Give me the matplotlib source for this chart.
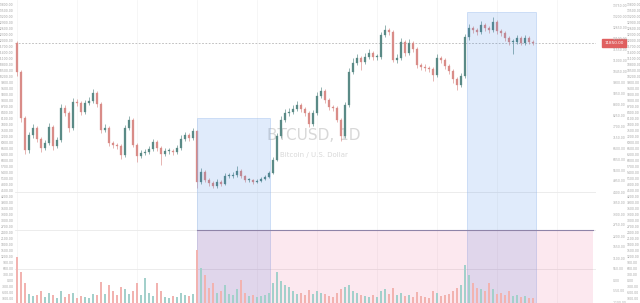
import matplotlib
matplotlib.use("Agg")
import matplotlib.pyplot as plt
from matplotlib.patches import Rectangle
from matplotlib.ticker import MultipleLocator, FuncFormatter

# ---------------- data (daily BTCUSD candles) ----------------
first_open = 11850
closes = [10400, 8100, 6500, 7250, 7600, 7050, 6600, 6850, 7650, 6700,
          7000, 8600, 8350, 7600, 8900, 8850, 8400, 8850, 8950, 9350,
          8800, 7500, 7600, 6850, 6750, 6700, 6250, 7600, 8000, 6750,
          6200, 6350, 6400, 6550, 6900, 6600, 6300, 6450, 6450, 6400,
          6600, 7050, 7250, 7100, 7450, 4900, 5400, 5000, 4850, 4700,
          4900, 4800, 5200, 5200, 5250, 5450, 5200, 5000, 5000, 4900,
          4950, 5050, 5150, 5350, 6000, 7200, 8000, 8350, 8400, 8550,
          8750, 8550, 8350, 7800, 8350, 9200, 9450, 9000, 8650, 8600,
          8000, 7200, 8750, 10400, 10850, 11100, 10900, 11150, 11350, 11150,
          11150, 12250, 12500, 12400, 11000, 11100, 11900, 11350, 11850, 11550,
          10750, 10650, 10600, 10550, 10250, 11100, 11000, 10700, 10450, 10050,
          9750, 10200, 12150, 12600, 12500, 12400, 12750, 12600, 12500, 12900,
          12450, 12350, 12100, 11900, 11900, 12100, 11850, 12100, 11900, 11850]
highs = [11950, 10500, 8200, 7400, 7800, 7700, 7150, 7000, 7850, 7750,
         7150, 8800, 8750, 8450, 9100, 9050, 8950, 9000, 9150, 9550,
         9450, 8900, 7800, 7700, 6950, 6850, 6800, 7750, 8200, 8100,
         6850, 6500, 6550, 6700, 7050, 7000, 6700, 6600, 6600, 6550,
         6750, 7250, 7400, 7350, 7600, 7500, 5600, 5500, 5100, 4950,
         5050, 5000, 5350, 5350, 5400, 5700, 5550, 5250, 5100, 5050,
         5050, 5150, 5250, 5450, 6150, 7350, 8200, 8550, 8600, 8750,
         8950, 8850, 8650, 8450, 8500, 9400, 9650, 9550, 9100, 8750,
         8700, 8100, 8900, 10600, 11100, 11300, 11200, 11350, 11550, 11450,
         11300, 12400, 12750, 12600, 12500, 11300, 12100, 12000, 12050, 11950,
         11650, 10850, 10800, 10700, 10650, 11300, 11200, 11100, 10800, 10550,
         10150, 10350, 12300, 12800, 12700, 12600, 12950, 12850, 12700, 13150,
         13000, 12550, 12450, 12200, 12050, 12250, 12200, 12250, 12200, 12000]
lows = [10200, 7900, 6300, 6350, 7100, 6900, 6400, 6500, 6750, 6500,
        6600, 6900, 8200, 7400, 7500, 8700, 8250, 8300, 8750, 8850,
        8650, 7350, 7400, 6700, 6600, 6550, 6050, 6150, 7500, 6650,
        5900, 6100, 6250, 6300, 6450, 6450, 5750, 6200, 6300, 6250,
        6300, 6500, 6950, 6950, 7000, 4600, 4800, 4900, 4700, 4600,
        4600, 4700, 4750, 5100, 5100, 5150, 5100, 4900, 4900, 4800,
        4850, 4900, 5000, 5100, 5300, 5950, 7100, 7900, 8200, 8300,
        8450, 8400, 8200, 7650, 7700, 8250, 9100, 8850, 8500, 8450,
        7900, 6950, 7100, 8650, 10300, 10750, 10500, 10800, 11050, 11000,
        11000, 11050, 12150, 12250, 10900, 10850, 11000, 11200, 11250, 11400,
        10600, 10500, 10450, 10400, 9950, 10150, 10850, 10550, 10300, 9850,
        9500, 9650, 10100, 12000, 12350, 12250, 12300, 12450, 12350, 12400,
        12300, 12200, 11950, 11750, 11300, 11800, 11750, 11750, 11800, 11750]
volumes = [46000, 31000, 20000, 9000, 7000, 8000, 12000, 6000, 10000, 8000,
           5000, 12000, 6000, 9000, 10000, 5000, 7000, 6000, 5000, 9000,
           8000, 21000, 9000, 18000, 12000, 8000, 16000, 14000, 9000, 12000,
           20000, 8000, 25000, 10000, 7000, 20000, 12000, 6000, 5000, 7000,
           6000, 10000, 8000, 7000, 9000, 53000, 35000, 28000, 15000, 20000,
           10000, 12000, 18000, 9000, 8000, 14000, 23000, 10000, 7000, 8000,
           6000, 7000, 8000, 10000, 20000, 31000, 22000, 18000, 16000, 12000,
           9000, 10000, 8000, 13000, 9000, 12000, 10000, 9000, 7000, 6000,
           10000, 14000, 16000, 18000, 12000, 10000, 8000, 7000, 6000, 8000,
           6000, 12000, 14000, 9000, 15000, 8000, 10000, 7000, 8000, 6000,
           11000, 7000, 6000, 5000, 12000, 10000, 7000, 8000, 9000, 12000,
           15000, 18000, 38000, 28000, 20000, 15000, 14000, 12000, 20000, 14000,
           9000, 10000, 8000, 12000, 7000, 8000, 6000, 7000, 5000, 5000]
opens = [first_open] + closes[:-1]

# annotation boxes: (first candle, last candle, top price)
date_range_1 = (44.9, 63.3, 8100)
date_range_2 = (112.5, 129.7, 13400)
price_range = (44.9, 144.0, 2500)

title = "BTCUSD, 1D"
subtitle = "Bitcoin / U.S. Dollar"

# ---------------- style ----------------
UP = "#5a8a86"
DOWN = "#d98c88"
VOL_UP = "#a3d0cb"
VOL_DOWN = "#f2b3b0"
LABEL = "#a0a0a0"
YMIN, YMAX = -1150, 14000

fig = plt.figure(figsize=(6.4, 3.03), dpi=100)
fig.patch.set_facecolor("white")
ax = fig.add_axes([15 / 640, 0, 581 / 640, 1])
ax.set_xlim(-0.5, 144.75)
ax.set_ylim(YMIN, YMAX)
ax.set_facecolor("white")
for s in ax.spines.values():
    s.set_visible(False)

# grid
ax.yaxis.set_major_locator(MultipleLocator(300))
for gx in range(0, 145, 15):
    ax.axvline(gx, color="#f3f3f3", lw=0.5, zorder=0)
for gy in [4400, 2500, 550]:
    ax.axhline(gy, color="#e9e9e9", lw=0.6, zorder=0)

# watermark
ax.text(0.515, 0.552, title, transform=ax.transAxes, ha="center", va="center",
        fontsize=11, color="#d8d8d8", zorder=1)
ax.text(0.515, 0.488, subtitle, transform=ax.transAxes, ha="center", va="center",
        fontsize=5, color="#d8d8d8", zorder=1)

# volume on a twin axis
axv = ax.twinx()
axv.set_ylim(0, 303000)
axv.set_axis_off()
idx = list(range(len(closes)))
vcol = [VOL_UP if c >= o else VOL_DOWN for o, c in zip(opens, closes)]
axv.bar(idx, volumes, width=0.5, color=vcol, zorder=2)

# candles
for i, (o, h, l, c) in enumerate(zip(opens, highs, lows, closes)):
    col = UP if c >= o else DOWN
    ax.vlines(i, l, h, color=col, lw=0.45, zorder=3)
    lo, hi = min(o, c), max(o, c)
    if hi - lo < 40:
        hi = lo + 40
    ax.add_patch(Rectangle((i - 0.22, lo), 0.44, hi - lo, facecolor=col,
                           edgecolor=col, lw=0.2, zorder=3))

# range boxes
for x0, x1, top in (date_range_1, date_range_2):
    ax.add_patch(Rectangle((x0, YMIN), x1 - x0, top - YMIN,
                           facecolor=(0.16, 0.47, 0.90, 0.14),
                           edgecolor=(0.55, 0.70, 0.92, 0.5), lw=0.5, zorder=4))
x0, x1, top = price_range
ax.add_patch(Rectangle((x0, YMIN), x1 - x0, top - YMIN, facecolor=(0.91, 0.12, 0.39, 0.10),
                       edgecolor="none", zorder=4))
ax.plot([x0, x1], [top, top], color="#8f84a8", lw=0.8, zorder=5)

# last price line and label
last = closes[-1]
ax.axhline(last, color="#b5b5b5", lw=0.6, ls=(0, (2, 2)), zorder=2)
ax.annotate(f"{last:.2f}", xy=(1.0, last), xycoords=("axes fraction", "data"),
            xytext=(6, 0), textcoords="offset points", ha="left", va="center",
            fontsize=3, color="white",
            bbox=dict(boxstyle="square,pad=0.5", fc="#e06060", ec="#e06060"))

# tick labels: left and right price scale
fmt = FuncFormatter(lambda v, p: f"{v:.2f}")
ax.yaxis.set_major_formatter(fmt)
ax.tick_params(axis="y", which="both", length=0, labelsize=2.2, labelcolor=LABEL,
               left=False, right=False, labelleft=True, labelright=True, pad=1)
ax.tick_params(axis="x", length=0, labelbottom=False)
for lab in ax.yaxis.get_ticklabels(which="major"):
    pass
ax.yaxis.set_tick_params(which="major", pad=1)
# push right-side labels out to second column
ax.yaxis.get_major_ticks()  # ensure ticks exist
for t in ax.yaxis.get_major_ticks():
    t.label2.set_x(1.0)
ax.yaxis.set_tick_params(labelright=True)

# right column (outer) uses a twin axis with same scale
ax3 = ax.twinx()
ax3.set_ylim(YMIN, YMAX)
ax3.yaxis.set_major_locator(MultipleLocator(300))
ax3.yaxis.set_major_formatter(fmt)
ax3.tick_params(axis="y", length=0, labelsize=2.2, labelcolor=LABEL, pad=22)
for s in ax3.spines.values():
    s.set_visible(False)
ax.tick_params(axis="y", labelright=False)

# inner right column with wider spacing
ax2 = ax.twinx()
ax2.set_ylim(YMIN, YMAX)
ax2.yaxis.set_major_locator(MultipleLocator(550))
ax2.yaxis.set_major_formatter(fmt)
ax2.tick_params(axis="y", length=0, labelsize=2.2, labelcolor="#a8a8a8", pad=12)
for s in ax2.spines.values():
    s.set_visible(False)

fig.savefig("out.png", dpi=100, facecolor="white")
